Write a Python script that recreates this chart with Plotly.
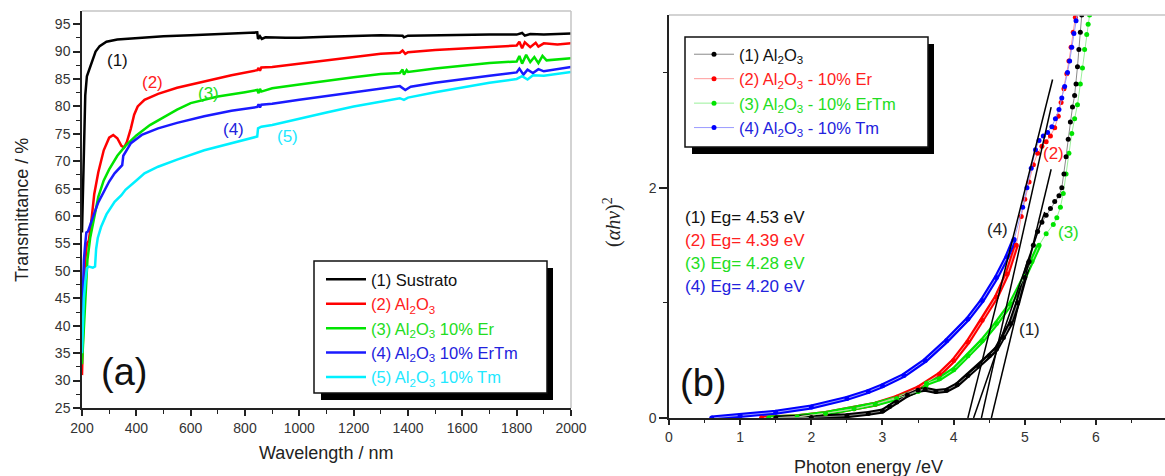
import plotly.graph_objects as go

W, H = 1165, 476
FONT = "Arial, Liberation Sans, sans-serif"

# ---------------- Panel (a): transmittance ----------------
wl_1 = [200, 204, 208, 212, 218, 228, 240, 250, 265, 290, 330, 400, 500, 600, 700, 800, 845, 848, 855, 862, 875, 950, 1000, 1100, 1200, 1300, 1380, 1385, 1400, 1500, 1600, 1700, 1800, 1820, 1830, 1850, 1900, 2000]
t_1 = [57, 66, 75, 82, 85.5, 87, 88.5, 90, 91, 91.8, 92.2, 92.5, 92.8, 93.0, 93.2, 93.4, 93.5, 92.3, 92.8, 92.3, 92.6, 92.5, 92.5, 92.7, 92.9, 93.0, 92.9, 92.6, 92.9, 93.0, 93.1, 93.1, 93.1, 93.4, 92.9, 93.2, 93.1, 93.3]

wl_2 = [200, 203, 207, 212, 218, 225, 232, 245, 260, 280, 300, 315, 330, 345, 355, 365, 380, 392, 405, 430, 480, 550, 650, 750, 845, 850, 855, 860, 900, 1000, 1100, 1200, 1300, 1370, 1380, 1390, 1400, 1500, 1600, 1700, 1800, 1810, 1820, 1830, 1850, 1870, 1880, 1900, 1950, 2000]
t_2 = [31, 38, 45, 52, 55, 55.5, 58, 64, 68, 72, 74.3, 74.8, 74.2, 72.8, 72.5, 73.5, 76, 78.5, 80, 81.2, 82.3, 83.4, 84.6, 85.7, 86.6, 87, 86.5, 87.1, 87.2, 87.8, 88.5, 89.1, 89.6, 89.8, 90.2, 89.6, 89.9, 90.3, 90.6, 90.9, 91.1, 91.8, 90.6, 91.7, 90.8, 91.6, 90.9, 91.5, 91.3, 91.5]

wl_3 = [200, 203, 208, 214, 220, 230, 245, 260, 280, 300, 330, 360, 400, 450, 500, 550, 600, 700, 800, 845, 850, 855, 860, 900, 1000, 1100, 1200, 1300, 1370, 1380, 1385, 1395, 1400, 1500, 1600, 1700, 1800, 1810, 1820, 1835, 1850, 1865, 1880, 1895, 1910, 2000]
t_3 = [33, 36, 42, 48, 52, 56, 60, 63.5, 66.5, 68.5, 71, 72.8, 74.7, 76.6, 78, 79.4, 80.6, 81.8, 82.6, 83, 82.4, 83.2, 82.7, 83.3, 84.0, 84.7, 85.3, 85.9, 86.1, 86.7, 85.8, 86.6, 86.3, 86.9, 87.4, 87.9, 88.2, 89.2, 87.8, 89.4, 88.1, 89.0, 87.9, 89.2, 88.4, 88.8]

wl_4 = [200, 203, 207, 212, 216, 222, 230, 245, 260, 280, 300, 320, 340, 348, 352, 365, 380, 420, 480, 550, 650, 750, 845, 850, 855, 860, 900, 1000, 1100, 1200, 1300, 1370, 1390, 1410, 1500, 1600, 1700, 1800, 1810, 1825, 1840, 1860, 1880, 1900, 2000]
t_4 = [41, 47, 52, 55, 57, 57.2, 58.5, 60.5, 62.5, 64.5, 66.3, 67.8, 69, 69.3, 71, 72.2, 73.3, 74.8, 76, 77, 78.2, 79.2, 79.9, 80.4, 79.8, 80.3, 80.5, 81.2, 81.9, 82.5, 83.2, 83.7, 83.0, 83.6, 84.3, 85, 85.6, 86.2, 86.9, 85.8, 86.7, 86.1, 86.8, 86.4, 87.2]

wl_5 = [200, 203, 207, 212, 218, 225, 240, 248, 252, 258, 270, 290, 320, 345, 360, 400, 430, 480, 550, 650, 750, 845, 848, 860, 900, 1000, 1100, 1200, 1300, 1370, 1385, 1400, 1500, 1600, 1700, 1800, 1820, 1840, 1860, 1900, 2000]
t_5 = [35, 40, 45, 48, 50.5, 50.8, 50.6, 50.8, 54, 56, 58, 60.3, 62.6, 63.8, 64.8, 66.5, 67.8, 69, 70.3, 72, 73.3, 74.5, 76, 76.3, 76.6, 77.8, 78.9, 80, 80.9, 81.5, 81.2, 81.6, 82.6, 83.5, 84.3, 85, 85.5, 84.9, 85.7, 85.6, 86.3]

names_a = ["(1) Sustrato", "(2) Al<sub>2</sub>O<sub>3</sub>", "(3) Al<sub>2</sub>O<sub>3</sub> 10% Er",
           "(4) Al<sub>2</sub>O<sub>3</sub> 10% ErTm", "(5) Al<sub>2</sub>O<sub>3</sub> 10% Tm"]
labels_a = ["(1)", "(2)", "(3)", "(4)", "(5)"]
label_wl = [329, 461, 664, 756, 958]
label_t = [88.4, 84.4, 82.4, 75.7, 74.6]
colors_a = ["#000000", "#ff0000", "#00e400", "#1a1aff", "#00f0ff"]
text_colors_a = ["#111111", "#ff2020", "#22dd22", "#2222dd", "#22e8ff"]

# ---------------- Panel (b): Tauc plot ----------------
e_1 = [1.5, 2.0, 2.5, 2.8, 3.0, 3.1, 3.2, 3.35, 3.5, 3.6, 3.75, 3.9, 4.05, 4.2, 4.35, 4.5, 4.6, 4.7, 4.8, 4.9, 5.0, 5.06, 5.12, 5.18, 5.24, 5.3, 5.36, 5.42, 5.48, 5.52, 5.55, 5.58, 5.61, 5.64, 5.67, 5.7, 5.72, 5.74, 5.76, 5.78, 5.8]
a_1 = [0, 0.005, 0.02, 0.04, 0.06, 0.1, 0.14, 0.2, 0.24, 0.25, 0.23, 0.24, 0.29, 0.37, 0.45, 0.54, 0.6, 0.7, 0.82, 1.0, 1.22, 1.36, 1.5, 1.62, 1.7, 1.76, 1.82, 1.88, 1.93, 2.0, 2.12, 2.27, 2.42, 2.57, 2.7, 2.8, 2.9, 3.05, 3.2, 3.35, 3.5]

e_2 = [1.3, 1.8, 2.2, 2.6, 2.9, 3.2, 3.5, 3.8, 4.0, 4.2, 4.4, 4.6, 4.75, 4.88, 4.95, 5.0, 5.06, 5.12, 5.18, 5.24, 5.3, 5.36, 5.42, 5.47, 5.51, 5.55, 5.59, 5.62, 5.65, 5.68, 5.71]
a_2 = [0, 0.01, 0.04, 0.08, 0.12, 0.18, 0.26, 0.38, 0.5, 0.66, 0.85, 1.05, 1.25, 1.5, 1.75, 1.9, 2.05, 2.2, 2.3, 2.36, 2.4, 2.45, 2.52, 2.62, 2.74, 2.86, 2.99, 3.1, 3.22, 3.35, 3.48]

e_3 = [1.4, 1.8, 2.2, 2.6, 2.9, 3.2, 3.5, 3.6, 3.62, 3.8, 4.0, 4.2, 4.4, 4.6, 4.8, 5.0, 5.1, 5.2, 5.3, 5.4, 5.45, 5.5, 5.54, 5.58, 5.62, 5.66, 5.7, 5.74, 5.78, 5.81, 5.84, 5.87, 5.89, 5.91]
a_3 = [0, 0.01, 0.04, 0.08, 0.12, 0.17, 0.23, 0.26, 0.3, 0.34, 0.42, 0.54, 0.67, 0.82, 0.99, 1.23, 1.36, 1.5, 1.6, 1.68, 1.74, 1.83, 1.95, 2.12, 2.3, 2.47, 2.6, 2.72, 2.9, 3.04, 3.2, 3.33, 3.42, 3.5]

e_4 = [0.6, 1.0, 1.5, 2.0, 2.5, 2.8, 3.0, 3.3, 3.6, 3.9, 4.2, 4.4, 4.6, 4.75, 4.85, 4.97, 5.03, 5.09, 5.15, 5.2, 5.26, 5.32, 5.38, 5.43, 5.48, 5.52, 5.56, 5.6, 5.63, 5.66, 5.69, 5.72, 5.74]
a_4 = [0, 0.02, 0.05, 0.096, 0.17, 0.23, 0.28, 0.37, 0.5, 0.67, 0.86, 1.02, 1.22, 1.4, 1.55, 1.83, 2.0, 2.17, 2.33, 2.41, 2.45, 2.48, 2.53, 2.6, 2.68, 2.78, 2.88, 3.0, 3.1, 3.22, 3.34, 3.45, 3.52]

names_b = ["(1) Al<sub>2</sub>O<sub>3</sub>", "(2) Al<sub>2</sub>O<sub>3</sub> - 10% Er",
           "(3) Al<sub>2</sub>O<sub>3</sub> - 10% ErTm", "(4) Al<sub>2</sub>O<sub>3</sub> - 10% Tm"]
colors_b = ["#000000", "#ff0000", "#00e400", "#0000ff"]
pale_b = ["#8a8a8a", "#ff9a9a", "#9af09a", "#9a9aff"]
text_colors_b = ["#111111", "#ff2020", "#22dd22", "#2222dd"]
dense_cut = [5.06, 4.88, 5.2, 4.85]

eg_values = [4.53, 4.39, 4.28, 4.20]
tangent_top_e = [5.37, 5.37, 5.28, 5.39]
tangent_top_a = [2.16, 2.70, 1.79, 2.94]
eg_labels = ["(1) Eg= 4.53 eV", "(2) Eg= 4.39 eV", "(3) Eg= 4.28 eV", "(4) Eg= 4.20 eV"]
eg_label_a = [1.74, 1.54, 1.34, 1.14]

curve_labels_b = ["(4)", "(2)", "(3)", "(1)"]
curve_label_e = [4.61, 5.41, 5.62, 5.06]
curve_label_a = [1.64, 2.30, 1.61, 0.77]
curve_label_colors = ["#222222", "#ff2020", "#22dd22", "#222222"]


def px(x):
    return x / W


def py(y):
    return (H - y) / H


fig = go.Figure()

# panel (a) traces
for i, (wx, ty) in enumerate([(wl_1, t_1), (wl_2, t_2), (wl_3, t_3), (wl_4, t_4), (wl_5, t_5)]):
    fig.add_trace(go.Scatter(
        x=wx, y=ty, mode="lines", xaxis="x", yaxis="y",
        line=dict(color=colors_a[i], width=2.5),
        name='<span style="color:%s">%s</span>' % (text_colors_a[i], names_a[i]),
        legend="legend", legendrank=i + 1, hoverinfo="skip"))

# panel (b) traces: dense band + dotted series
series_b = [(e_1, a_1), (e_2, a_2), (e_3, a_3), (e_4, a_4)]
draw_order = [1, 3, 2, 0]
for i in draw_order:
    ex, ay = series_b[i]
    n = len([v for v in ex if v <= dense_cut[i]])
    fig.add_trace(go.Scatter(
        x=ex[:n], y=ay[:n], mode="lines", xaxis="x2", yaxis="y2",
        line=dict(color=colors_b[i], width=5), showlegend=False, hoverinfo="skip"))
for i in draw_order:
    ex, ay = series_b[i]
    fig.add_trace(go.Scatter(
        x=ex, y=ay, mode="lines+markers", xaxis="x2", yaxis="y2",
        line=dict(color=pale_b[i], width=1),
        marker=dict(color=colors_b[i], size=5),
        name='<span style="color:%s">%s</span>' % (text_colors_b[i], names_b[i]),
        legend="legend2", legendrank=i + 1, hoverinfo="skip"))

for k in range(len(eg_values)):
    fig.add_trace(go.Scatter(
        x=[eg_values[k], tangent_top_e[k]], y=[0, tangent_top_a[k]],
        mode="lines", xaxis="x2", yaxis="y2",
        line=dict(color="#000000", width=1.5), showlegend=False, hoverinfo="skip"))

tickfont = dict(family=FONT, size=14, color="#333333")
base_axis = dict(showline=True, linecolor="#222222", linewidth=1.5, ticks="outside",
                 tickwidth=1.5, tickcolor="#222222", showgrid=False, zeroline=False,
                 tickfont=tickfont, automargin=False)

fig.update_layout(
    template="none",
    width=W, height=H, margin=dict(l=0, r=0, t=0, b=0, autoexpand=False),
    paper_bgcolor="white", plot_bgcolor="white",
    font=dict(family=FONT, color="#222222"),
    xaxis=dict(base_axis, domain=[px(82), px(571)], range=[200, 2000], tick0=200, dtick=200,
               ticklen=6, anchor="y",
               minor=dict(dtick=100, ticklen=4, tickwidth=1.2, tickcolor="#222222", ticks="outside")),
    yaxis=dict(base_axis, domain=[py(408), py(11)], range=[25, 97.4], tick0=25, dtick=5,
               ticklen=7, anchor="x",
               minor=dict(dtick=2.5, ticklen=4, tickwidth=1.2, tickcolor="#222222", ticks="outside")),
    xaxis2=dict(base_axis, domain=[px(669), 1.0], range=[0, 6.97], tick0=0, dtick=1,
                ticklen=5, anchor="y2",
                minor=dict(dtick=0.5, ticklen=3, tickwidth=1.2, tickcolor="#222222", ticks="outside")),
    yaxis2=dict(base_axis, domain=[py(418), py(15)], range=[0, 3.5], tick0=0, dtick=2,
                ticklen=8, anchor="x2",
                minor=dict(dtick=1, ticklen=4, tickwidth=1.2, tickcolor="#222222", ticks="outside")),
    legend=dict(x=px(321), y=py(262), xanchor="left", yanchor="top",
                bgcolor="rgba(0,0,0,0)", borderwidth=0, itemwidth=40,
                font=dict(family=FONT, size=16.5), tracegroupgap=0),
    legend2=dict(x=px(689), y=py(37), xanchor="left", yanchor="top",
                 bgcolor="rgba(0,0,0,0)", borderwidth=0, itemwidth=40,
                 font=dict(family=FONT, size=16.5), tracegroupgap=0),
)

shapes = []
# gray frames
shapes.append(dict(type="line", xref="x domain", yref="y domain", x0=0, x1=1, y0=1, y1=1,
                   line=dict(color="#c4c4c4", width=1.5)))
shapes.append(dict(type="line", xref="x domain", yref="y domain", x0=1, x1=1, y0=0, y1=1,
                   line=dict(color="#c4c4c4", width=1.5)))
shapes.append(dict(type="line", xref="x2 domain", yref="y2 domain", x0=0, x1=1, y0=1, y1=1,
                   line=dict(color="#c4c4c4", width=1.5)))
# legend boxes with shadow
for (x0, y0, x1, y1) in [(314, 261, 547, 393), (685, 37, 928, 147)]:
    shapes.append(dict(type="rect", xref="paper", yref="paper", layer="above",
                       x0=px(x0 + 7), x1=px(x1 + 6), y0=py(y0 + 7), y1=py(y1 + 7),
                       fillcolor="#000000", line=dict(width=0)))
    shapes.append(dict(type="rect", xref="paper", yref="paper", layer="above",
                       x0=px(x0), x1=px(x1), y0=py(y0), y1=py(y1),
                       fillcolor="#ffffff", line=dict(color="#111111", width=1.5)))
fig.update_layout(shapes=shapes)

ann = []
for i in range(5):
    ann.append(dict(x=label_wl[i], y=label_t[i], xref="x", yref="y", text=labels_a[i],
                    showarrow=False, font=dict(family=FONT, size=17, color=text_colors_a[i])))
ann.append(dict(x=355, y=31.6, xref="x", yref="y", text="(a)", showarrow=False,
                font=dict(family=FONT, size=38, color="#111111")))
for k in range(4):
    ann.append(dict(x=0.197, y=eg_label_a[k], xref="x2", yref="y2", text=eg_labels[k],
                    xanchor="left", yanchor="middle", showarrow=False,
                    font=dict(family=FONT, size=17, color=text_colors_b[k])))
for k in range(4):
    ann.append(dict(x=curve_label_e[k], y=curve_label_a[k], xref="x2", yref="y2",
                    text=curve_labels_b[k], showarrow=False,
                    font=dict(family=FONT, size=17, color=curve_label_colors[k])))
ann.append(dict(x=0.48, y=0.30, xref="x2", yref="y2", text="(b)", showarrow=False,
                font=dict(family=FONT, size=38, color="#111111")))
# axis titles
ann.append(dict(x=px(326), y=py(453), xref="paper", yref="paper", text="Wavelength / nm",
                xanchor="center", yanchor="middle",
                showarrow=False, font=dict(family=FONT, size=18, color="#222222")))
ann.append(dict(x=px(22), y=py(210), xref="paper", yref="paper", text="Transmittance / %",
                xanchor="center", yanchor="middle",
                textangle=-90, showarrow=False, font=dict(family=FONT, size=18, color="#222222")))
ann.append(dict(x=px(868), y=py(467), xref="paper", yref="paper", text="Photon energy /eV",
                xanchor="center", yanchor="middle",
                showarrow=False, font=dict(family=FONT, size=18, color="#222222")))
ann.append(dict(x=px(612), y=py(222), xref="paper", yref="paper",
                xanchor="center", yanchor="middle",
                text="(<i>\u03b1h\u03bd</i>)<sup>2</sup>", textangle=-90, showarrow=False,
                font=dict(family="Liberation Serif, Times New Roman, serif", size=20, color="#222222")))
fig.update_layout(annotations=ann)

fig.write_html("out.html")
